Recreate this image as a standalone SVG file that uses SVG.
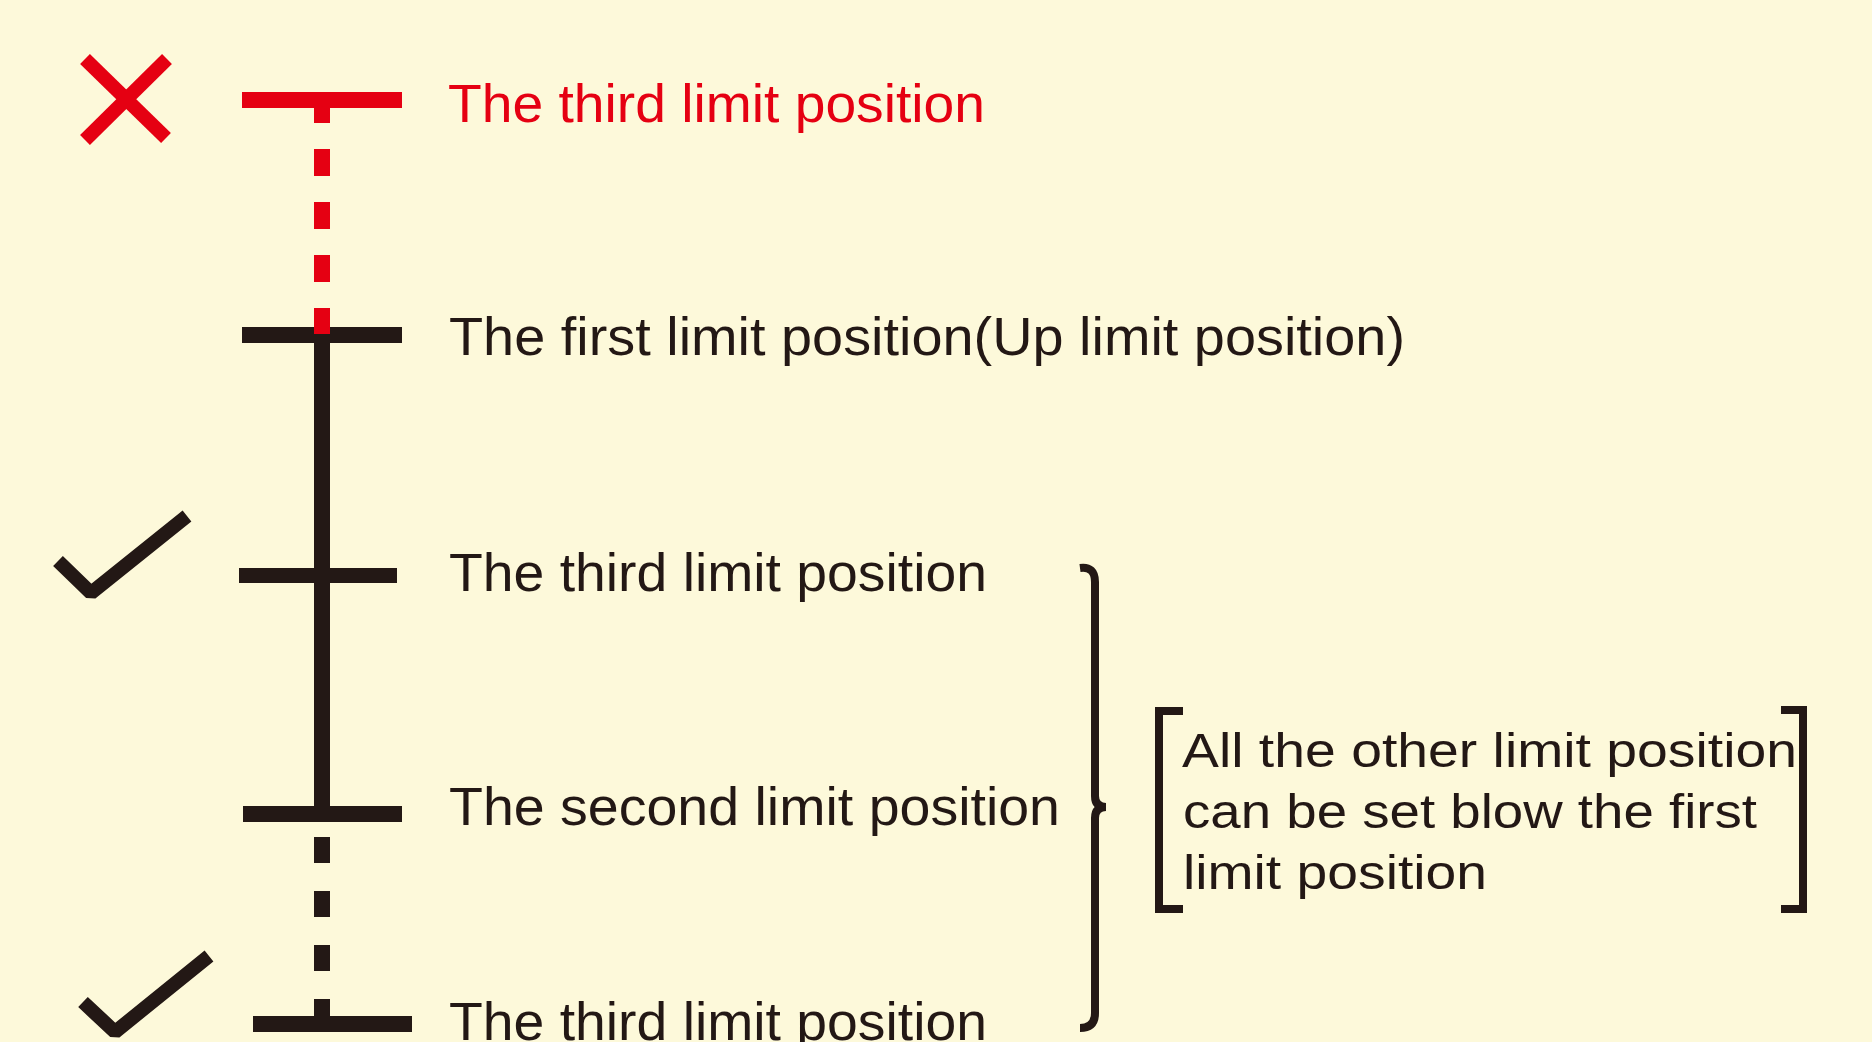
<svg xmlns="http://www.w3.org/2000/svg" width="1872" height="1042" viewBox="0 0 1872 1042">
  <style>
    .lbl { font-family: "Liberation Sans", Arial, Helvetica, sans-serif; font-size: 53px; fill: #231815; }
    .note { font-family: "Liberation Sans", Arial, Helvetica, sans-serif; font-size: 49px; fill: #231815; }
    .red { fill: #e50012; }
    .barK { fill: #231815; }
    .barR { fill: #e50012; }
    .mark { fill: none; stroke-width: 14; stroke-linecap: butt; }
    .br { fill: none; stroke: #231815; stroke-width: 8; }
  </style>
  <rect x="0" y="0" width="1872" height="1042" fill="#fdf9da"/>

  <g id="connectors">
    <line x1="322" y1="96" x2="322" y2="335" stroke="#e50012" stroke-width="16" stroke-dasharray="27 26"/>
    <line x1="322" y1="336" x2="322" y2="814" stroke="#231815" stroke-width="16"/>
    <line x1="322" y1="837" x2="322" y2="1024" stroke="#231815" stroke-width="16" stroke-dasharray="26 28"/>
  </g>

  <g id="limit-third-invalid">
    <rect class="barR" x="242" y="92" width="160" height="16"/>
    <text class="lbl red" x="448" y="122" textLength="537" lengthAdjust="spacingAndGlyphs">The third limit position</text>
  </g>

  <g id="limit-first">
    <rect class="barK" x="242" y="327" width="160" height="16"/>
    <text class="lbl" x="449" y="355" textLength="956" lengthAdjust="spacingAndGlyphs">The first limit position(Up limit position)</text>
  </g>

  <g id="redtop-overlay">
    <rect class="barR" x="314" y="309" width="16" height="25"/>
  </g>

  <g id="limit-third-a">
    <rect class="barK" x="239" y="568" width="158" height="15"/>
    <text class="lbl" x="449" y="591" textLength="538" lengthAdjust="spacingAndGlyphs">The third limit position</text>
  </g>

  <g id="limit-second">
    <rect class="barK" x="243" y="806" width="159" height="16"/>
    <text class="lbl" x="449" y="825" textLength="611" lengthAdjust="spacingAndGlyphs">The second limit position</text>
  </g>

  <g id="limit-third-b">
    <rect class="barK" x="253" y="1016" width="159" height="16"/>
    <text class="lbl" x="449" y="1040" textLength="538" lengthAdjust="spacingAndGlyphs">The third limit position</text>
  </g>

  <g id="mark-cross">
    <line class="mark" stroke="#e50012" x1="85" y1="59" x2="166" y2="138"/>
    <line class="mark" stroke="#e50012" x1="167" y1="59" x2="85" y2="140"/>
  </g>

  <g id="mark-check-a">
    <polyline class="mark" stroke="#231815" stroke-linejoin="bevel" points="58,561 91,593 187,516"/>
  </g>

  <g id="mark-check-b">
    <polyline class="mark" stroke="#231815" stroke-linejoin="bevel" points="83,1002 115,1032 209,956"/>
  </g>

  <g id="brace">
    <path class="br" d="M1080,568 Q1095,566 1095,582 L1095,796 Q1095,807 1106,807 Q1095,807 1095,818 L1095,1013 Q1095,1028 1080,1028"/>
  </g>

  <g id="note">
    <path class="br" d="M1183,711 L1159,711 L1159,909 L1183,909"/>
    <path class="br" d="M1781,710 L1803,710 L1803,909 L1781,909"/>
    <text class="note" x="1182" y="767" textLength="615" lengthAdjust="spacingAndGlyphs">All the other limit position</text>
    <text class="note" x="1183" y="828" textLength="574" lengthAdjust="spacingAndGlyphs">can be set blow the first</text>
    <text class="note" x="1183" y="889" textLength="304" lengthAdjust="spacingAndGlyphs">limit position</text>
  </g>
</svg>
